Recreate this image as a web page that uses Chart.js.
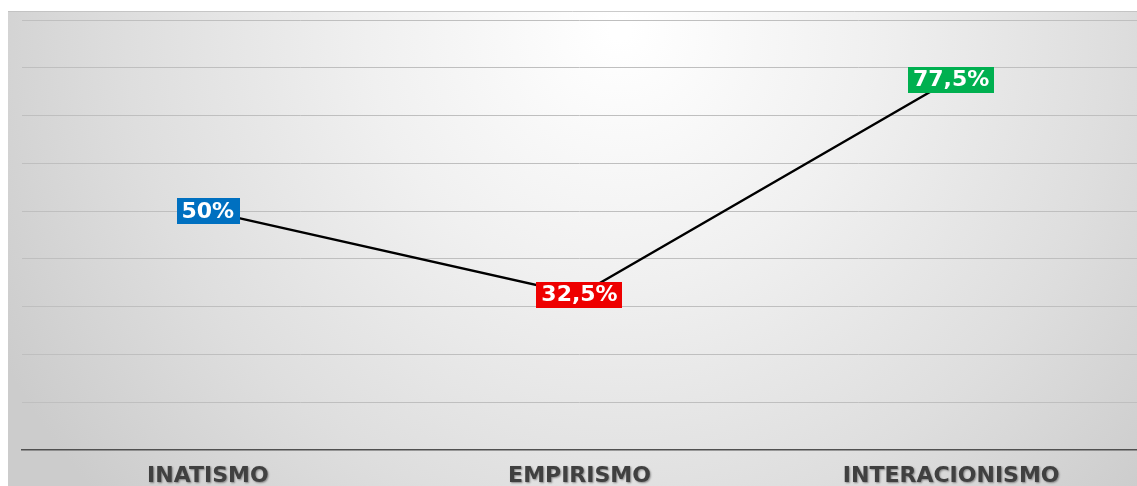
<!DOCTYPE html>
<html><head><meta charset="utf-8">
<script src="https://cdn.jsdelivr.net/npm/chart.js@4.4.0/dist/chart.umd.min.js"></script>
<style>html,body{margin:0;padding:0;background:#fff;}#wrap{width:1137px;height:486px;position:relative;}</style>
</head><body><div id="wrap"><canvas id="c" width="1137" height="486"></canvas></div>
<script>
const categories = ["INATISMO", "EMPIRISMO", "INTERACIONISMO"];
const values = [50, 32.5, 77.5];
const valueLabels = ["50%", "32,5%", "77,5%"];
const labelColors = ["#0070C0", "#EE0000", "#00B050"];
const yTicks = [0, 10, 20, 30, 40, 50, 60, 70, 80, 90];

const bgPlugin = {
  id: 'bg',
  beforeDraw(chart) {
    const ctx = chart.ctx;
    ctx.save();
    ctx.fillStyle = '#ffffff';
    ctx.fillRect(0, 0, chart.width, chart.height);
    const x0 = 8, y0 = 11, w = chart.width - x0, h = chart.height - y0;
    const g = ctx.createRadialGradient(620, 30, 10, 620, 30, 700);
    g.addColorStop(0, '#ffffff');
    g.addColorStop(0.35, '#f0f0f0');
    g.addColorStop(0.7, '#dedede');
    g.addColorStop(1, '#cccccc');
    ctx.fillStyle = g;
    ctx.fillRect(x0, y0, w, h);
    ctx.strokeStyle = 'rgba(190,190,190,0.8)';
    ctx.lineWidth = 1;
    ctx.beginPath(); ctx.moveTo(x0, y0 + 0.5); ctx.lineTo(chart.width, y0 + 0.5); ctx.stroke();
    ctx.restore();
  },
  afterLayout(chart) {
    const sx = chart.scales.x;
    if (sx._shadowWrapped) return;
    const orig = sx.drawLabels;
    sx.drawLabels = function (area) {
      const ctx = this.ctx;
      ctx.save();
      ctx.shadowColor = 'rgba(0,0,0,0.4)';
      ctx.shadowBlur = 2;
      ctx.shadowOffsetX = 1;
      ctx.shadowOffsetY = 1;
      orig.call(this, area);
      ctx.restore();
    };
    sx._shadowWrapped = true;
  }
};

const labelPlugin = {
  id: 'valLabels',
  afterDatasetsDraw(chart) {
    const ctx = chart.ctx;
    const meta = chart.getDatasetMeta(0);
    ctx.save();
    ctx.font = 'bold 22px "DejaVu Sans", sans-serif';
    ctx.textAlign = 'center';
    ctx.textBaseline = 'middle';
    meta.data.forEach((pt, i) => {
      const txt = valueLabels[i];
      const tw = ctx.measureText(txt).width;
      const bw = tw + 10, bh = 26;
      ctx.fillStyle = labelColors[i];
      ctx.fillRect(Math.round(pt.x - bw / 2), Math.round(pt.y - bh / 2), Math.round(bw), bh);
      ctx.fillStyle = '#ffffff';
      ctx.fillText(txt, pt.x, pt.y + 1);
    });
    ctx.restore();
  }
};

new Chart(document.getElementById('c'), {
  type: 'line',
  data: {
    labels: categories,
    datasets: [{
      data: values,
      borderColor: '#000000',
      borderWidth: 2.5,
      pointRadius: 0,
      tension: 0,
      fill: false
    }]
  },
  options: {
    responsive: false,
    animation: false,
    devicePixelRatio: 1,
    layout: { padding: { left: 22, right: 0, top: 20, bottom: 0 } },
    plugins: { legend: { display: false }, tooltip: { enabled: false } },
    scales: {
      x: {
        offset: true,
        afterFit(scale) { scale.height = 36; },
        grid: { display: false, drawTicks: false },
        border: { display: true, color: '#505050', width: 1.5 },
        ticks: {
          padding: 15,
          color: '#404040',
          font: { family: '"DejaVu Sans", sans-serif', size: 22, weight: 'bold', lineHeight: 1.0 }
        }
      },
      y: {
        min: 0, max: 90,
        afterBuildTicks(scale) { scale.ticks = yTicks.map(v => ({ value: v })); },
        grid: {
          drawTicks: false,
          color: (c) => c.tick && c.tick.value === 0 ? 'rgba(0,0,0,0)' : '#bfbfbf',
          lineWidth: 1
        },
        border: { display: false },
        ticks: { display: false }
      }
    }
  },
  plugins: [bgPlugin, labelPlugin]
});
</script></body></html>
